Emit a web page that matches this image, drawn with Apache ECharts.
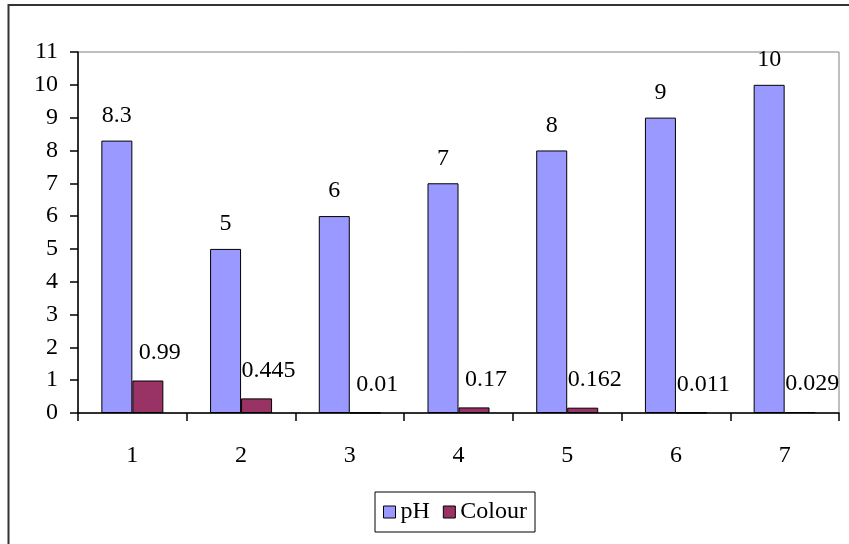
<!DOCTYPE html>
<html>
<head>
<meta charset="utf-8">
<script src="https://cdn.jsdelivr.net/npm/echarts@6/dist/echarts.min.js"></script>
<style>
  html, body { margin: 0; padding: 0; background: #fff; }
  #main { width: 849px; height: 544px; }
</style>
</head>
<body>
<div id="main"></div>
<script>
var myChart = echarts.init(document.getElementById('main'));

// 类目和两组数据
var categories = ['1', '2', '3', '4', '5', '6', '7'];
var phValues = [8.3, 5, 6, 7, 8, 9, 10];
var colourValues = [0.99, 0.445, 0.01, 0.17, 0.162, 0.011, 0.029];

var serif = "'Liberation Serif', 'Times New Roman', serif";
var fs = 24;

option = {
    animation: false,
    backgroundColor: '#fff',
    textStyle: { fontFamily: serif },
    graphic: [{
        // 外框（右、下被裁掉）
        type: 'rect',
        shape: { x: 8.5, y: 5, width: 900, height: 600 },
        style: { fill: null, stroke: '#333', lineWidth: 2 },
        silent: true
    }],
    grid: {
        left: 78,
        top: 52,
        right: 10,
        bottom: 131,
        show: true,
        borderColor: '#808080',
        borderWidth: 1
    },
    legend: {
        data: ['pH', 'Colour'],
        left: 375,
        top: 492,
        padding: [8, 8, 8, 8],
        borderColor: '#000',
        borderWidth: 1,
        itemWidth: 12,
        itemHeight: 12,
        itemGap: 13,
        icon: 'rect',
        itemStyle: { borderColor: '#000', borderWidth: 1 },
        textStyle: { fontFamily: serif, fontSize: fs, color: '#000' }
    },
    xAxis: {
        type: 'category',
        data: categories,
        axisLine: { lineStyle: { color: '#000', width: 1.5 } },
        axisTick: { show: true, length: 8, lineStyle: { color: '#000', width: 1.5 } },
        axisLabel: { margin: 31, fontFamily: serif, fontSize: fs, color: '#000' }
    },
    yAxis: {
        type: 'value',
        min: 0,
        max: 11,
        interval: 1,
        splitLine: { show: false },
        axisLine: { show: true, lineStyle: { color: '#000', width: 1.5 } },
        axisTick: { show: true, length: 8, lineStyle: { color: '#000', width: 1.5 } },
        axisLabel: { margin: 20, fontFamily: serif, fontSize: fs, color: '#000' }
    },
    series: [
        {
            name: 'pH',
            type: 'bar',
            data: phValues,
            barWidth: 31,
            barGap: '0%',
            itemStyle: { color: '#9999FF', borderColor: '#000', borderWidth: 1 },
            label: {
                show: true,
                position: 'top',
                distance: 13,
                fontFamily: serif,
                fontSize: fs,
                color: '#000'
            }
        },
        {
            name: 'Colour',
            type: 'bar',
            data: colourValues,
            barWidth: 31,
            itemStyle: { color: '#993366', borderColor: '#000', borderWidth: 1 },
            label: {
                show: true,
                position: 'top',
                distance: 16,
                offset: [12, 0],
                fontFamily: serif,
                fontSize: fs,
                color: '#000'
            }
        }
    ]
};

myChart.setOption(option);
</script>
</body>
</html>
